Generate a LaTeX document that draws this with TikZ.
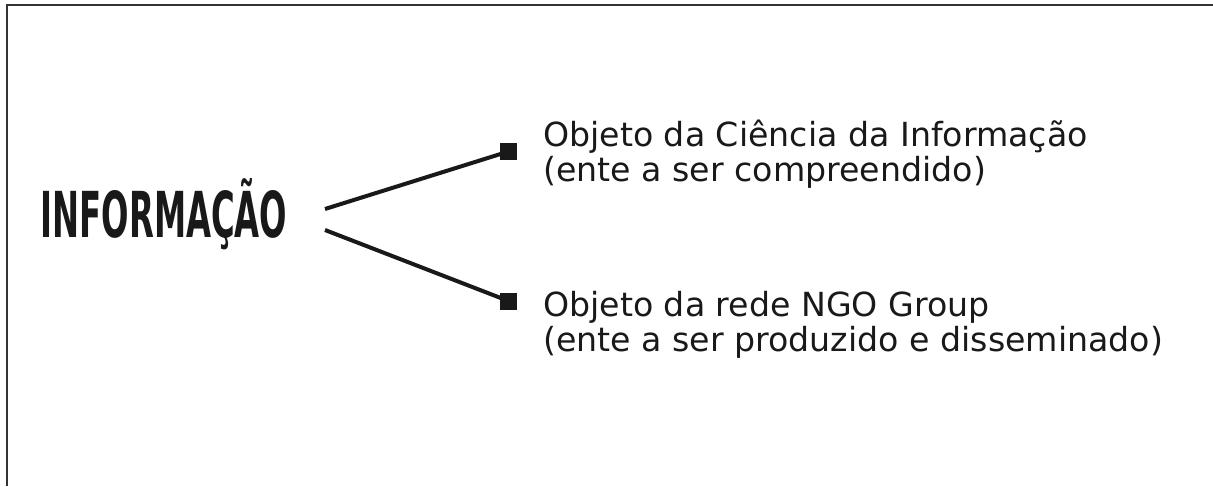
\documentclass[tikz,border=0pt]{standalone}
\usepackage{fontspec}
\setmainfont{DejaVu Sans}
\usepackage{tikz}
\usetikzlibrary{positioning}

\tikzset{
  marca/.style={fill=black!90, minimum size=12.75pt, inner sep=0pt},
  ramo/.style={draw=black!90, line width=3pt},
  texto/.style={anchor=base west, inner sep=0pt, align=left,
    font=\fontsize{24.9}{26.25}\selectfont, text=black!90}
}

\begin{document}
\begin{tikzpicture}[x=0.75pt, y=-0.75pt]
  \useasboundingbox (0,0) rectangle (1213,486);

  \draw [line width=1.5pt, black!80] (7,486) -- (7,5) -- (1213,5);

  \node [name=info, anchor=base, inner sep=0pt, text=black!90,
    font=\fontsize{47.5}{50}\selectfont\bfseries] at (164,237)
    {\scalebox{0.51}[1]{INFORMAÇÃO}};

  \coordinate (c1) at (325,209);
  \coordinate (c2) at (325,230);

  \node [marca, name=sq1] at (508.5,151.5) {};
  \node [marca, name=sq2] at (508.5,301) {};

  \draw [ramo] (c1) -- (sq1.center);
  \draw [ramo] (c2) -- (sq2.center);

  % base = baseline of the second line
  \node [texto, name=obj1] at (543,181)
    {Objeto da Ciência da Informação\\(ente a ser compreendido)};
  \node [texto, name=obj2] at (543,351)
    {Objeto da rede NGO Group\\(ente a ser produzido e disseminado)};

\end{tikzpicture}
\end{document}
